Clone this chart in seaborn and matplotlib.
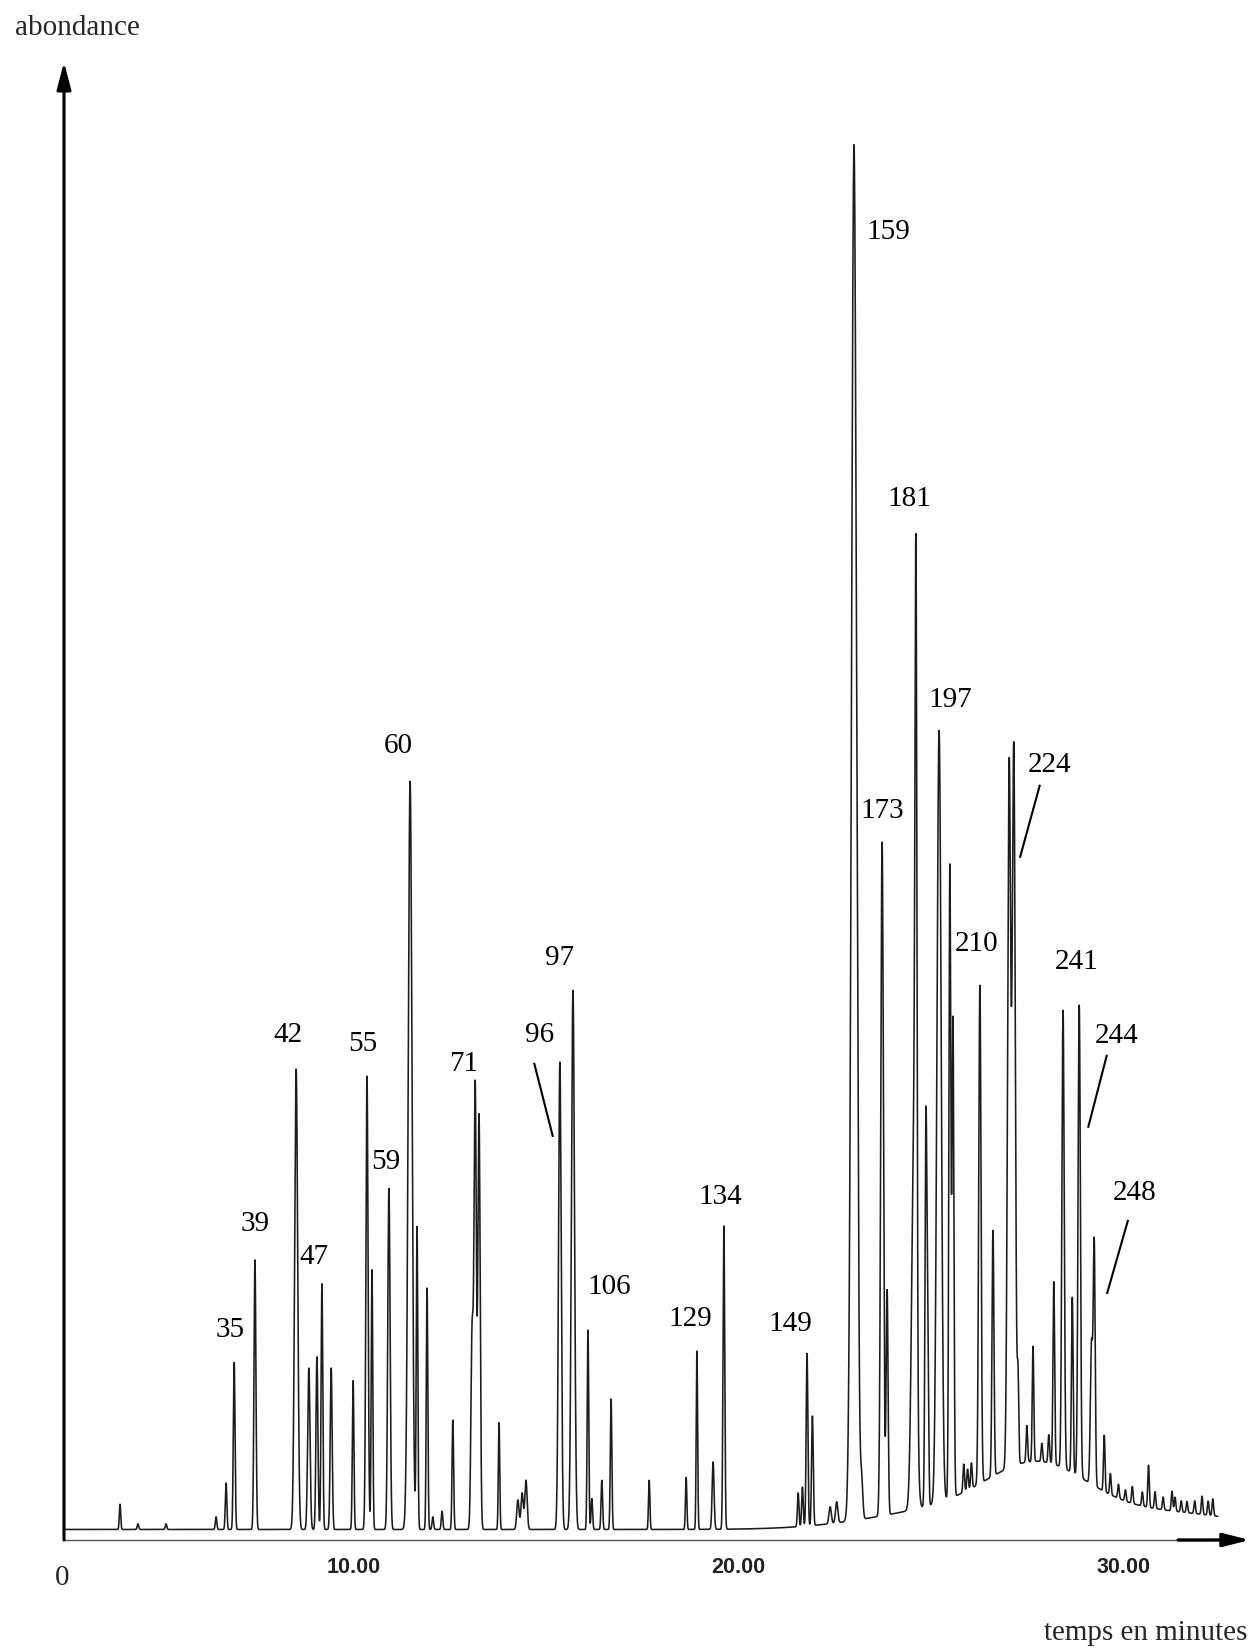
import numpy as np
import pandas as pd
import seaborn as sns
import matplotlib.pyplot as plt
from matplotlib.ticker import FixedLocator, FuncFormatter

# retention time (min), height (abundance, tallest peak = 100), width (min)
peak_time = [3.935, 4.40, 5.13, 6.43, 6.69, 6.90, 7.44, 8.51, 8.84, 9.05,
             9.18, 9.42, 9.99, 10.35, 10.48, 10.92, 11.47, 11.65, 11.91, 12.06,
             12.30, 12.58, 13.08, 13.16, 13.26, 13.78, 14.27, 14.38, 14.48, 15.36,
             15.70, 16.09, 16.19, 16.45, 16.69, 17.68, 18.64, 18.92, 19.34, 19.62,
             21.55, 21.66, 21.78, 21.92, 22.38, 22.55, 23.00, 23.09, 23.20, 23.73,
             23.86, 24.56, 24.61, 24.87, 24.92, 25.21, 25.49, 25.57, 25.85, 25.95,
             26.05, 26.27, 26.61, 27.03, 27.15, 27.26, 27.49, 27.65, 27.88, 28.06,
             28.19, 28.43, 28.67, 28.85, 29.17, 29.24, 29.50, 29.66, 29.87, 30.05,
             30.23, 30.49, 30.65, 30.82, 31.03, 31.26, 31.34, 31.50, 31.65, 31.85,
             32.04, 32.20, 32.32]
peak_height = [1.8, 0.4, 0.4, 0.9, 3.3, 11.9, 19.2, 32.8, 11.5, 12.3,
               17.5, 11.5, 10.6, 32.3, 18.5, 24.3, 53.3, 21.5, 17.2, 0.9,
               1.3, 7.8, 14.0, 31.5, 29.5, 7.6, 2.1, 2.6, 3.5, 33.3,
               38.4, 14.2, 2.2, 3.5, 9.3, 3.5, 3.7, 12.7, 4.8, 21.6,
               2.4, 2.8, 12.3, 7.8, 1.2, 1.5, 98.0, 6.0, 2.5, 48.0,
               16.0, 27.0, 50.0, 28.0, 11.0, 55.0, 45.0, 34.0, 2.0, 1.5,
               1.8, 35.5, 17.5, 50.0, 51.0, 6.0, 2.6, 8.2, 1.3, 2.0,
               13.0, 32.6, 12.5, 33.6, 10.0, 17.0, 4.0, 1.5, 1.0, 0.8,
               1.2, 1.0, 3.0, 1.2, 0.9, 1.4, 1.0, 0.8, 0.8, 0.9,
               1.3, 1.0, 1.2]
peak_width = [0.018, 0.02, 0.02, 0.02, 0.02, 0.022, 0.025, 0.04, 0.03, 0.025,
              0.022, 0.025, 0.02, 0.028, 0.02, 0.03, 0.05, 0.02, 0.02, 0.02,
              0.02, 0.02, 0.03, 0.03, 0.03, 0.018, 0.03, 0.03, 0.03, 0.035,
              0.04, 0.02, 0.02, 0.02, 0.02, 0.018, 0.018, 0.018, 0.025, 0.022,
              0.02, 0.02, 0.022, 0.022, 0.03, 0.03, 0.065, 0.025, 0.03, 0.035,
              0.025, 0.06, 0.025, 0.025, 0.02, 0.055, 0.025, 0.025, 0.02, 0.02,
              0.02, 0.03, 0.025, 0.04, 0.04, 0.02, 0.02, 0.02, 0.02, 0.02,
              0.022, 0.03, 0.022, 0.03, 0.03, 0.025, 0.02, 0.02, 0.02, 0.02,
              0.02, 0.02, 0.02, 0.02, 0.02, 0.02, 0.02, 0.02, 0.02, 0.02,
              0.02, 0.02, 0.02]

# slow rise of the baseline under the late eluting compounds
hump_time = [25.5, 27.8, 31.0]
hump_height = [1.4, 3.8, 1.2]
hump_width = [2.0, 1.3, 2.0]
baseline = 0.75
run_start, run_end = 2.50, 32.45

# peak numbers written on the chart (time, abundance of the label centre)
label_text = ['35', '39', '42', '47', '55', '59', '60', '71', '96', '97', '106',
              '129', '134', '149', '159', '173', '181', '197', '210', '224',
              '241', '244', '248']
label_time = [6.79, 7.44, 8.30, 8.97, 10.25, 10.84, 11.16, 12.85, 14.82, 15.36,
              16.64, 18.74, 19.52, 21.34, 23.88, 23.73, 24.43, 25.49, 26.19,
              28.09, 28.79, 29.83, 30.30]
label_abund = [14.97, 22.52, 36.0, 20.17, 35.35, 26.94, 56.59, 33.93, 36.0, 41.48,
               18.03, 15.75, 24.45, 15.40, 93.16, 51.96, 74.2, 59.87, 42.48,
               55.24, 41.2, 35.92, 24.73]

# leader lines from a label towards its peak
leader_time = [(14.69, 15.18), (27.83, 27.31), (29.57, 29.08), (30.12, 29.57)]
leader_abund = [(34.0, 28.72), (53.81, 48.61), (34.57, 29.37), (22.81, 17.53)]

# build the detector trace
t = np.arange(run_start, run_end, 0.002)
signal = np.full_like(t, baseline)
for c, h, w in zip(hump_time + peak_time, hump_height + peak_height,
                   hump_width + peak_width):
    signal += h * np.exp(-(t - c) ** 2 / (2 * w ** 2))
df = pd.DataFrame({'temps': t, 'abondance': signal})

sns.set_style('white')
plt.rcParams['font.family'] = ['Liberation Serif', 'DejaVu Serif']

fig = plt.figure(figsize=(12.53, 16.48), dpi=100)
ax = fig.add_axes([0.05108, 0.06553, 0.94892, 0.89685])

sns.lineplot(data=df, x='temps', y='abondance', ax=ax, color='#1c1c1c',
             linewidth=1.15, estimator=None, sort=False)

ax.set_xlim(2.48, 33.364)
ax.set_ylim(0, 105.3)
ax.set_xlabel('')
ax.set_ylabel('')
ax.set_yticks([])

for s in ['left', 'top', 'right']:
    ax.spines[s].set_visible(False)
ax.spines['bottom'].set_color('#555555')
ax.spines['bottom'].set_linewidth(1.0)
ax.spines['bottom'].set_bounds(2.48, 32.3)

majors = np.arange(4, 32.01, 2)
minors = np.round(np.arange(2.8, 32.01, 0.4), 2)
ax.xaxis.set_major_locator(FixedLocator(majors))
ax.xaxis.set_minor_locator(FixedLocator(minors))
ax.xaxis.set_major_formatter(FuncFormatter(
    lambda v, p: f'{v:.2f}' if round(v) in (10, 20, 30) else ''))
ax.tick_params(axis='x', which='major', direction='out', length=8, width=1.0,
               color='#444444', pad=4, labelsize=15.5, labelcolor='#222222')
ax.tick_params(axis='x', which='minor', direction='out', length=3.5, width=1.0,
               color='#444444')
for lab in ax.get_xticklabels():
    lab.set_fontfamily(['Liberation Sans', 'DejaVu Sans'])
    lab.set_fontweight('bold')

# axis arrows
ax.annotate('', xy=(0, 1), xytext=(0, 0), xycoords='axes fraction',
            arrowprops=dict(arrowstyle='-|>,head_length=1.65,head_width=0.43',
                            lw=2.2, color='black', shrinkA=0, shrinkB=0))
ax.annotate('', xy=(0.9975, 0), xytext=(0.937, 0), xycoords='axes fraction',
            arrowprops=dict(arrowstyle='-|>,head_length=1.6,head_width=0.4',
                            lw=2.4, color='black', shrinkA=0, shrinkB=0))

for txt, x, y in zip(label_text, label_time, label_abund):
    ax.text(x, y, txt, ha='center', va='center', fontsize=21, color='black')
for xs, ys in zip(leader_time, leader_abund):
    ax.plot(xs, ys, color='black', lw=1.5, solid_capstyle='butt')

W, H = 1253, 1648
fig.text(77 / W, 1 - 28 / H, 'abondance', ha='center', va='center', fontsize=21)
fig.text(62 / W, 1 - 1578 / H, '0', ha='center', va='center', fontsize=21)
fig.text(1146 / W, 1 - 1633 / H, 'temps en minutes', ha='center', va='center',
         fontsize=21)

fig.savefig('out.png', dpi=100, facecolor='white')
